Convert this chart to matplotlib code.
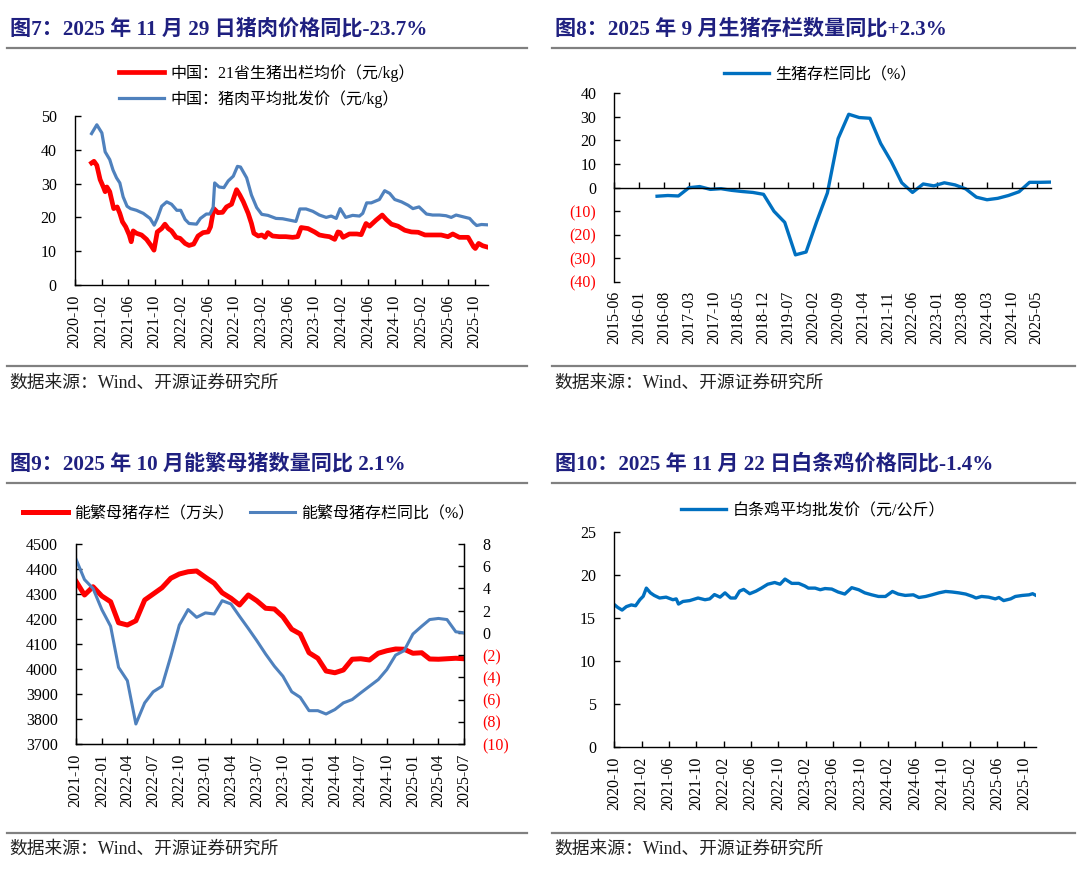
import numpy as np
import pandas as pd
import matplotlib
matplotlib.use('Agg')
import matplotlib.pyplot as plt
import matplotlib.dates as mdates
from matplotlib.lines import Line2D

W, H = 1080, 886
SERIF = ['Liberation Serif', 'Noto Sans CJK SC']
plt.rcParams['font.family'] = SERIF
plt.rcParams['axes.unicode_minus'] = False

# ---------------- 数据 ----------------
# 图7 猪肉价格
pork_red_dates = ['2020-12-17', '2020-12-28', '2021-01-10', '2021-01-25', '2021-02-10', '2021-02-17',
                  '2021-02-25', '2021-03-10', '2021-03-28', '2021-04-13', '2021-04-25', '2021-05-07',
                  '2021-05-22', '2021-06-07', '2021-06-16', '2021-06-25', '2021-07-10', '2021-08-02',
                  '2021-08-25', '2021-09-13', '2021-09-28', '2021-10-13', '2021-11-02', '2021-11-17',
                  '2021-12-02', '2021-12-17', '2022-01-07', '2022-01-25', '2022-02-17', '2022-03-07',
                  '2022-03-28', '2022-04-17', '2022-05-10', '2022-06-02', '2022-06-13', '2022-06-28',
                  '2022-07-17', '2022-08-07', '2022-08-25', '2022-09-17', '2022-10-10', '2022-10-25',
                  '2022-11-10', '2022-12-02', '2022-12-17', '2022-12-28', '2023-01-17', '2023-02-02',
                  '2023-02-17', '2023-03-02', '2023-03-23', '2023-04-23', '2023-05-23', '2023-06-23',
                  '2023-07-16', '2023-08-01', '2023-09-01', '2023-10-01', '2023-10-23', '2023-11-16',
                  '2023-12-08', '2024-01-01', '2024-01-16', '2024-01-26', '2024-02-08', '2024-03-08',
                  '2024-04-11', '2024-05-01', '2024-05-23', '2024-06-08', '2024-07-08', '2024-08-05',
                  '2024-08-23', '2024-09-16', '2024-10-16', '2024-11-16', '2024-12-16', '2025-01-16',
                  '2025-02-16', '2025-03-23', '2025-05-01', '2025-06-01', '2025-06-23', '2025-07-23',
                  '2025-09-01', '2025-09-26', '2025-10-04', '2025-10-19', '2025-11-07', '2025-11-29']
pork_red = [36.1, 36.6, 35.4, 31.2, 28.8, 27.6, 29.0, 27.6, 22.6, 23.1, 21.2, 18.7,
            17.2, 14.8, 12.8, 16.0, 15.3, 14.8, 13.5, 11.8, 10.3, 15.7, 16.7, 18.0,
            16.7, 16.0, 14.1, 13.8, 12.3, 11.7, 12.1, 14.5, 15.5, 15.7, 17.2, 22.6,
            21.4, 21.5, 23.1, 23.9, 28.2, 26.6, 24.6, 21.2, 18.2, 15.3, 14.5, 14.8,
            14.1, 15.5, 14.5, 14.3, 14.3, 14.1, 14.3, 17.0, 16.7, 15.7, 14.8, 14.5,
            14.3, 13.5, 15.7, 15.5, 14.1, 15.1, 15.1, 14.9, 18.2, 17.4, 19.2, 20.7,
            19.4, 18.0, 17.4, 16.2, 15.7, 15.6, 14.8, 14.8, 14.8, 14.3, 15.1, 14.1,
            14.1, 11.3, 10.8, 12.3, 11.6, 11.2]

pork_blue_dates = ['2020-12-17', '2021-01-10', '2021-02-02', '2021-02-17', '2021-03-10', '2021-03-25',
                   '2021-04-10', '2021-04-25', '2021-05-10', '2021-05-28', '2021-06-13', '2021-07-10',
                   '2021-08-10', '2021-09-10', '2021-09-29', '2021-10-13', '2021-11-02', '2021-11-25',
                   '2021-12-17', '2022-01-10', '2022-01-28', '2022-02-17', '2022-03-07', '2022-04-10',
                   '2022-04-28', '2022-05-25', '2022-06-10', '2022-06-25', '2022-07-02', '2022-07-22',
                   '2022-08-13', '2022-09-02', '2022-09-25', '2022-10-14', '2022-10-28', '2022-11-25',
                   '2022-12-17', '2023-01-10', '2023-02-02', '2023-03-02', '2023-04-08', '2023-05-08',
                   '2023-06-08', '2023-07-08', '2023-07-26', '2023-08-23', '2023-09-23', '2023-10-23',
                   '2023-11-23', '2023-12-16', '2024-01-08', '2024-01-26', '2024-02-20', '2024-03-23',
                   '2024-04-23', '2024-05-08', '2024-05-26', '2024-06-16', '2024-07-23', '2024-08-16',
                   '2024-09-08', '2024-10-01', '2024-11-01', '2024-12-01', '2024-12-23', '2025-01-20',
                   '2025-02-23', '2025-03-23', '2025-04-23', '2025-05-23', '2025-06-16', '2025-07-08',
                   '2025-08-08', '2025-09-08', '2025-09-26', '2025-10-10', '2025-11-01', '2025-11-29']
pork_blue = [44.8, 47.4, 45.0, 39.4, 37.1, 34.0, 31.7, 30.2, 26.1, 23.3, 22.6, 22.1,
             21.2, 19.7, 17.7, 19.7, 23.3, 24.6, 23.9, 22.1, 22.1, 19.4, 18.2, 18.0,
             19.7, 21.0, 21.0, 22.9, 30.2, 29.0, 28.8, 30.8, 32.2, 35.1, 34.9, 31.7,
             26.6, 22.9, 20.9, 20.6, 19.7, 19.6, 19.2, 18.8, 22.5, 22.5, 21.8, 20.7,
             20.0, 20.4, 19.7, 22.6, 20.0, 20.6, 20.4, 21.2, 24.3, 24.3, 25.3, 27.9,
             27.1, 25.3, 24.6, 23.6, 22.6, 23.1, 21.0, 20.7, 20.7, 20.5, 20.0, 20.7,
             20.2, 19.7, 18.4, 17.6, 17.9, 17.8]

# 图8 生猪存栏同比（季度）
hog_yoy = [-3.7, -3.4, -3.6, -0.1, 0.4, -0.8, -0.5, -1.2, -1.7, -2.1, -2.9, -10.1,
           -14.8, -28.6, -27.4, -14.5, -2.3, 20.8, 31.1, 29.7, 29.4, 18.7, 11.0, 2.0,
           -2.1, 1.5, 0.7, 2.0, 1.1, -0.6, -4.1, -5.2, -4.6, -3.4, -1.8, 2.2, 2.2, 2.3]

# 图9 能繁母猪（月度）
sow_stock = [4353, 4296, 4329, 4292, 4269, 4185, 4176, 4193, 4276, 4300, 4325, 4363,
             4380, 4389, 4392, 4367, 4343, 4305, 4283, 4256, 4296, 4273, 4243, 4240,
             4209, 4159, 4140, 4065, 4043, 3992, 3985, 3996, 4039, 4041, 4036, 4063,
             4073, 4080, 4079, 4063, 4065, 4040, 4039, 4041, 4043, 4041]
sow_yoy = [6.7, 4.8, 4.0, 2.1, 0.6, -3.1, -4.3, -8.2, -6.3, -5.3, -4.8, -2.1,
           0.7, 2.1, 1.4, 1.8, 1.7, 2.9, 2.6, 1.5, 0.4, -0.7, -1.9, -3.0,
           -3.9, -5.3, -5.8, -7.0, -7.0, -7.3, -6.9, -6.3, -6.0, -5.4, -4.8, -4.2,
           -3.3, -2.0, -1.6, -0.1, 0.6, 1.2, 1.3, 1.2, 0.1, 0.0]

# 图10 白条鸡平均批发价
chicken_dates = ['2020-10-04', '2020-10-18', '2020-11-06', '2020-11-25', '2020-12-17', '2021-01-05',
                 '2021-01-24', '2021-02-08', '2021-02-22', '2021-03-12', '2021-03-29', '2021-04-22',
                 '2021-05-21', '2021-06-20', '2021-07-05', '2021-07-15', '2021-08-04', '2021-09-03',
                 '2021-10-10', '2021-11-10', '2021-12-01', '2021-12-22', '2022-01-16', '2022-02-07',
                 '2022-03-04', '2022-03-25', '2022-04-13', '2022-05-01', '2022-05-28', '2022-06-25',
                 '2022-07-19', '2022-08-16', '2022-09-16', '2022-10-10', '2022-11-01', '2022-12-01',
                 '2023-01-01', '2023-01-28', '2023-02-13', '2023-03-15', '2023-04-07', '2023-04-28',
                 '2023-05-28', '2023-06-25', '2023-07-25', '2023-08-25', '2023-09-25', '2023-10-22',
                 '2023-11-22', '2023-12-22', '2024-01-22', '2024-02-22', '2024-03-19', '2024-04-19',
                 '2024-05-25', '2024-06-19', '2024-07-19', '2024-08-16', '2024-09-16', '2024-10-16',
                 '2024-11-13', '2024-12-13', '2025-01-13', '2025-02-13', '2025-02-28', '2025-03-25',
                 '2025-04-25', '2025-05-25', '2025-06-10', '2025-07-01', '2025-08-01', '2025-08-22',
                 '2025-09-22', '2025-10-22', '2025-11-07', '2025-11-22']
chicken = [16.5, 16.2, 15.9, 16.3, 16.5, 16.4, 17.1, 17.5, 18.45, 17.9, 17.6, 17.3,
           17.4, 17.1, 17.2, 16.6, 16.9, 17.0, 17.3, 17.1, 17.2, 17.7, 17.4, 17.9,
           17.3, 17.3, 18.1, 18.3, 17.8, 18.1, 18.45, 18.9, 19.1, 18.9, 19.5, 19.0,
           19.0, 18.7, 18.45, 18.45, 18.26, 18.4, 18.34, 18.0, 17.76, 18.5, 18.26, 17.9,
           17.67, 17.48, 17.48, 18.06, 17.76, 17.6, 17.67, 17.36, 17.48, 17.67, 17.9, 18.06,
           18.0, 17.9, 17.76, 17.48, 17.3, 17.48, 17.4, 17.2, 17.36, 17.0, 17.2, 17.48,
           17.6, 17.67, 17.8, 17.6]

titles = ['图7：2025 年 11 月 29 日猪肉价格同比-23.7%',
          '图8：2025 年 9 月生猪存栏数量同比+2.3%',
          '图9：2025 年 10 月能繁母猪数量同比 2.1%',
          '图10：2025 年 11 月 22 日白条鸡价格同比-1.4%']
source = '数据来源：Wind、开源证券研究所'

RED = '#FF0000'
BLUE_A = '#4F81BD'
BLUE_B = '#0070C0'
NAVY = '#1F2080'
TICK_FS = 11.5
LEG_FS = 11.5


def box(l, t, r, b):
    return [l / W, 1 - b / H, (r - l) / W, (b - t) / H]


def hline(fig, x0, x1, y):
    fig.add_artist(Line2D([x0 / W, x1 / W], [1 - y / H, 1 - y / H],
                          transform=fig.transFigure, color='#808080', lw=1.6))


def header_footer(fig, x0, x1, y_title, y_line, y_foot, y_src, title):
    fig.text((x0 + 3) / W, 1 - y_title / H, title, fontsize=15.2, fontweight='bold',
             color=NAVY, va='center', ha='left', family=SERIF)
    hline(fig, x0, x1, y_line)
    hline(fig, x0, x1, y_foot)
    fig.text((x0 + 2) / W, 1 - y_src / H, source, fontsize=12.8, color='#222222',
             va='center', ha='left', family=SERIF)


def style_axes(ax, right=False):
    ax.spines['top'].set_visible(False)
    if not right:
        ax.spines['right'].set_visible(False)
    for s in ax.spines.values():
        s.set_linewidth(1.0)
    ax.tick_params(direction='in', length=4, width=1, labelsize=TICK_FS)
    ax.tick_params(axis='y', pad=13)
    for lab in ax.get_xticklabels() + ax.get_yticklabels():
        lab.set_family(SERIF)


def date_ticks(ax, ticks):
    ax.set_xticks(ticks)
    ax.xaxis.set_major_formatter(mdates.DateFormatter('%Y-%m'))
    ax.tick_params(axis='x', labelrotation=90, pad=7)


fig = plt.figure(figsize=(W / 100, H / 100), dpi=100)

# ---------- 图7 ----------
header_footer(fig, 7, 527, 29, 48, 366, 383, titles[0])
ax1 = fig.add_axes(box(74.7, 116, 487.6, 285))
ax1.plot(pd.to_datetime(pork_red_dates), pork_red, color=RED, lw=3.4,
         label='中国：21省生猪出栏均价（元/kg）', solid_joinstyle='round')
ax1.plot(pd.to_datetime(pork_blue_dates), pork_blue, color=BLUE_A, lw=2.3,
         label='中国：猪肉平均批发价（元/kg）', solid_joinstyle='round')
ax1.set_xlim(pd.Timestamp('2020-10-01'), pd.Timestamp('2025-11-29'))
ax1.set_ylim(0, 50)
ax1.set_yticks(range(0, 51, 10))
date_ticks(ax1, pd.date_range('2020-10-01', '2025-10-01', freq='4MS'))
style_axes(ax1)
ax1.legend(loc='center', bbox_to_anchor=(267 / W, 1 - 86 / H), bbox_transform=fig.transFigure,
           frameon=False, fontsize=LEG_FS, handlelength=2.8, handletextpad=0.4, labelspacing=0.5,
           borderpad=0)

# ---------- 图8 ----------
header_footer(fig, 552, 1075, 29, 48, 366, 383, titles[1])
ax2 = fig.add_axes(box(614.4, 93.3, 1051, 281.7))
q_dates = pd.date_range('2016-06-01', periods=len(hog_yoy), freq='3MS')
ax2.plot(q_dates, hog_yoy, color=BLUE_B, lw=2.4, label='生猪存栏同比（%）', solid_joinstyle='round')
ax2.set_xlim(pd.Timestamp('2015-06-01'), q_dates[-1])
ax2.set_ylim(-40, 40)
yt2 = list(range(-40, 41, 10))
ax2.set_yticks(yt2)
ax2.set_yticklabels([f'({-v})' if v < 0 else str(v) for v in yt2])
ticks2 = pd.date_range('2015-06-01', '2025-05-01', freq='7MS')
ax2.set_xticks(ticks2)
style_axes(ax2)
ax2.spines['bottom'].set_position(('data', 0))
ax2.tick_params(axis='x', labelbottom=False)
for v, lab in zip(yt2, ax2.get_yticklabels()):
    lab.set_color(RED if v < 0 else 'black')
for d in ticks2:
    ax2.text(d, -0.05, d.strftime('%Y-%m'), transform=ax2.get_xaxis_transform(),
             rotation=90, ha='center', va='top', fontsize=TICK_FS, family=SERIF)
ax2.legend(loc='center', bbox_to_anchor=(820 / W, 1 - 75 / H), bbox_transform=fig.transFigure,
           frameon=False, fontsize=LEG_FS, handlelength=2.8, handletextpad=0.4, borderpad=0)

# ---------- 图9 ----------
header_footer(fig, 7, 527, 464, 483, 833, 849, titles[2])
ax3 = fig.add_axes(box(75.7, 544, 464.3, 744))
m_dates = pd.date_range('2021-10-01', periods=len(sow_stock), freq='MS')
l1, = ax3.plot(m_dates, sow_stock, color=RED, lw=3.6, label='能繁母猪存栏（万头）', solid_joinstyle='round')
ax3.set_ylim(3700, 4500)
ax3.set_yticks(range(3700, 4501, 100))
ax3.set_xlim(m_dates[0], m_dates[-1])
date_ticks(ax3, pd.date_range('2021-10-01', m_dates[-1], freq='3MS'))
style_axes(ax3, right=True)
ax3b = ax3.twinx()
l2, = ax3b.plot(m_dates, sow_yoy, color=BLUE_A, lw=2.2, label='能繁母猪存栏同比（%）', solid_joinstyle='round')
ax3b.set_ylim(-10, 8)
yt3 = list(range(-10, 9, 2))
ax3b.set_yticks(yt3)
ax3b.set_yticklabels([f'({-v})' if v < 0 else str(v) for v in yt3])
ax3b.spines['top'].set_visible(False)
ax3b.tick_params(direction='in', length=4, width=1, labelsize=TICK_FS, pad=13)
for v, lab in zip(yt3, ax3b.get_yticklabels()):
    lab.set_color(RED if v < 0 else 'black')
    lab.set_family(SERIF)
ax3.legend(handles=[l1, l2], loc='center', ncol=2, bbox_to_anchor=(249 / W, 1 - 514 / H),
           bbox_transform=fig.transFigure, frameon=False, fontsize=LEG_FS, handlelength=2.8,
           handletextpad=0.4, columnspacing=1.0, borderpad=0)

# ---------- 图10 ----------
header_footer(fig, 552, 1075, 464, 483, 833, 849, titles[3])
ax4 = fig.add_axes(box(614, 531.7, 1036, 747))
ax4.plot(pd.to_datetime(chicken_dates), chicken, color=BLUE_B, lw=2.4,
         label='白条鸡平均批发价（元/公斤）', solid_joinstyle='round')
ax4.set_xlim(pd.Timestamp('2020-10-01'), pd.Timestamp('2025-11-22'))
ax4.set_ylim(0, 25)
ax4.set_yticks(range(0, 26, 5))
date_ticks(ax4, pd.date_range('2020-10-01', '2025-10-01', freq='4MS'))
style_axes(ax4)
ax4.legend(loc='center', bbox_to_anchor=(813 / W, 1 - 511 / H), bbox_transform=fig.transFigure,
           frameon=False, fontsize=LEG_FS, handlelength=2.8, handletextpad=0.4, borderpad=0)

fig.savefig('out.png', dpi=100)
